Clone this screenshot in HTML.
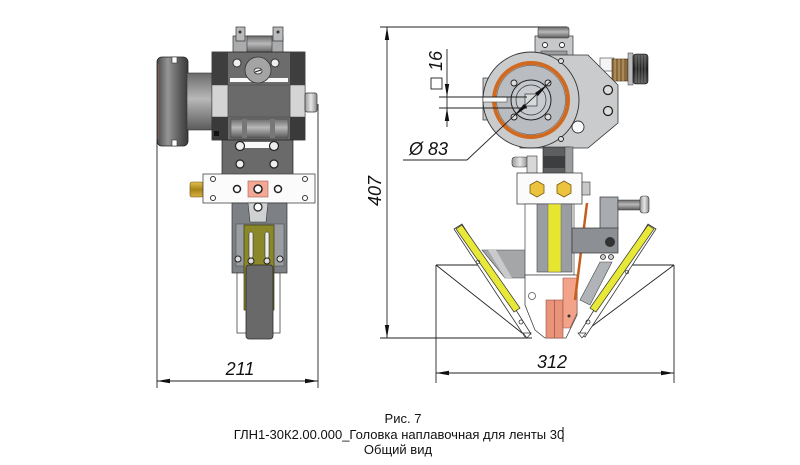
<!DOCTYPE html>
<html><head><meta charset="utf-8"><style>
html,body{margin:0;padding:0;background:#fff;}
svg{display:block;}
.dim{font-family:"Liberation Sans",sans-serif;font-style:italic;font-size:18px;fill:#111;}
.cap{font-family:"Liberation Sans","Noto Sans CJK SC",sans-serif;font-size:13px;fill:#111;}
</style></head><body>
<svg width="800" height="465" viewBox="0 0 800 465" xmlns="http://www.w3.org/2000/svg">
<defs>
<linearGradient id="drum" x1="0" x2="1" y1="0" y2="0"><stop offset="0" stop-color="#4a4a4a"/><stop offset="0.35" stop-color="#959595"/><stop offset="0.7" stop-color="#606060"/><stop offset="1" stop-color="#3a3a3a"/></linearGradient>
<linearGradient id="cylV" x1="0" x2="0" y1="0" y2="1"><stop offset="0" stop-color="#6a6a6a"/><stop offset="0.45" stop-color="#b8b8b8"/><stop offset="1" stop-color="#5a5a5a"/></linearGradient>
<linearGradient id="rollH" x1="0" x2="1" y1="0" y2="0"><stop offset="0" stop-color="#999"/><stop offset="0.5" stop-color="#e6e6e6"/><stop offset="1" stop-color="#8a8a8a"/></linearGradient>
<linearGradient id="brass" x1="0" x2="0" y1="0" y2="1"><stop offset="0" stop-color="#e0c050"/><stop offset="0.5" stop-color="#a88418"/><stop offset="1" stop-color="#d8b040"/></linearGradient>
<linearGradient id="knurl" x1="0" x2="0" y1="0" y2="1"><stop offset="0" stop-color="#555"/><stop offset="0.5" stop-color="#222"/><stop offset="1" stop-color="#555"/></linearGradient>
</defs>

<!-- ===== LEFT VIEW ===== -->
<line x1="157" y1="140" x2="157" y2="388" stroke="#222" stroke-width="0.9"/>
<line x1="318" y1="104" x2="318" y2="388" stroke="#222" stroke-width="0.9"/>
<line x1="157" y1="381" x2="318" y2="381" stroke="#222" stroke-width="0.9"/>
<polygon points="157,381 170,378.8 170,383.2" fill="#111"/>
<polygon points="318,381 305,378.8 305,383.2" fill="#111"/>
<text class="dim" x="240" y="375" text-anchor="middle">211</text>

<!-- drum -->
<rect x="157" y="57" width="31" height="89" rx="5" fill="url(#drum)" stroke="#222" stroke-width="0.8"/>
<line x1="158.6" y1="64" x2="158.6" y2="139" stroke="#a06a50" stroke-width="0.6"/>
<rect x="172" y="57" width="5" height="6" fill="#fff" stroke="#333" stroke-width="0.6"/>
<rect x="172" y="140" width="5" height="6" fill="#fff" stroke="#333" stroke-width="0.6"/>
<rect x="187" y="73" width="26" height="57" fill="url(#cylV)" stroke="#333" stroke-width="0.6"/>
<!-- top bracket -->
<rect x="233" y="36" width="50" height="18" fill="#a9abad" stroke="#333" stroke-width="0.7"/>
<rect x="236" y="27" width="9" height="14" fill="#b8babc" stroke="#333" stroke-width="0.7"/>
<rect x="273" y="27" width="10" height="14" fill="#b8babc" stroke="#333" stroke-width="0.7"/>
<rect x="247" y="36" width="25" height="17" fill="url(#cylV)" stroke="#333" stroke-width="0.6"/>
<circle cx="240" cy="32" r="1.5" fill="#333"/><circle cx="278" cy="32" r="1.5" fill="#333"/>
<!-- main body -->
<rect x="212" y="52" width="93" height="88" fill="#6c6c6c" stroke="#222" stroke-width="0.8"/>
<rect x="212" y="52" width="16" height="33" fill="#3e3e3e"/>
<rect x="290" y="52" width="15" height="33" fill="#3e3e3e"/>
<rect x="212" y="85" width="16" height="32" fill="#d4d4d4" stroke="#444" stroke-width="0.5"/>
<rect x="290" y="85" width="15" height="32" fill="#d4d4d4" stroke="#444" stroke-width="0.5"/>
<rect x="228" y="85" width="62" height="32" fill="#6a6a6a" stroke="#444" stroke-width="0.5"/>
<rect x="212" y="117" width="16" height="23" fill="#3a3a3a"/>
<rect x="290" y="117" width="15" height="23" fill="#3a3a3a"/>
<rect x="230" y="78" width="58" height="4" fill="#fafafa"/>
<rect x="231" y="119" width="57" height="19" fill="url(#cylV)" stroke="#444" stroke-width="0.5"/>
<rect x="242" y="119" width="5" height="19" fill="#777"/><rect x="270" y="119" width="5" height="19" fill="#777"/>
<circle cx="237" cy="63" r="4" fill="#eee" stroke="#333" stroke-width="1"/>
<circle cx="275" cy="63" r="4" fill="#eee" stroke="#333" stroke-width="1"/>
<circle cx="258" cy="70" r="13" fill="#a4a4a4" stroke="#333" stroke-width="0.8"/>
<ellipse cx="258" cy="71" rx="4" ry="3" fill="#eee" stroke="#333" stroke-width="0.8"/>
<line x1="255" y1="72" x2="261" y2="70" stroke="#222" stroke-width="1"/>
<rect x="214" y="131" width="5" height="5" fill="#111"/>
<rect x="305" y="93" width="12" height="19" rx="2" fill="url(#rollH)" stroke="#333" stroke-width="0.7"/>
<!-- lower body -->
<rect x="222" y="140" width="71" height="35" fill="#6a6a6a" stroke="#222" stroke-width="0.7"/>
<rect x="240" y="142" width="34" height="6" fill="#fafafa"/>
<circle cx="240" cy="146" r="4.5" fill="#eee" stroke="#222" stroke-width="1.2"/>
<circle cx="274" cy="146" r="4.5" fill="#eee" stroke="#222" stroke-width="1.2"/>
<circle cx="240" cy="164" r="4" fill="#eee" stroke="#222" stroke-width="1.2"/>
<circle cx="274" cy="164" r="4" fill="#eee" stroke="#222" stroke-width="1.2"/>
<rect x="190" y="182" width="13" height="15" rx="2" fill="url(#brass)" stroke="#6a5010" stroke-width="0.6"/>
<!-- white plate -->
<rect x="203" y="174" width="112" height="29" fill="#fbfbfb" stroke="#444" stroke-width="0.8"/>
<circle cx="213" cy="179" r="2.5" fill="#fff" stroke="#333" stroke-width="1"/>
<circle cx="213" cy="198" r="2.5" fill="#fff" stroke="#333" stroke-width="1"/>
<circle cx="305" cy="179" r="2.5" fill="#fff" stroke="#333" stroke-width="1"/>
<circle cx="305" cy="198" r="2.5" fill="#fff" stroke="#333" stroke-width="1"/>
<circle cx="237" cy="189" r="3.5" fill="#fff" stroke="#222" stroke-width="1.5"/>
<circle cx="278" cy="189" r="3.5" fill="#fff" stroke="#222" stroke-width="1.5"/>
<rect x="248" y="181" width="20" height="16" fill="#f2a894" stroke="#a06050" stroke-width="0.6"/>
<circle cx="258" cy="189" r="4" fill="#fff" stroke="#222" stroke-width="1.5"/>
<!-- lower gray -->
<rect x="232" y="203" width="55" height="70" fill="#7d8185" stroke="#333" stroke-width="0.7"/>
<rect x="236" y="224" width="48" height="42" fill="#9a9ea2" stroke="#444" stroke-width="0.5"/>
<polygon points="248,203 268,203 266,222 250,222" fill="#cfd1d3" stroke="#333" stroke-width="0.6"/>
<circle cx="258" cy="207" r="4" fill="#fff" stroke="#222" stroke-width="1.2"/>
<rect x="237" y="273" width="43" height="60" fill="#fff" stroke="#444" stroke-width="0.8"/>
<rect x="244" y="225" width="30" height="85" fill="#8a8828" stroke="#3a3a10" stroke-width="0.7"/>
<rect x="249" y="232" width="4" height="26" rx="2" fill="#eee" stroke="#333" stroke-width="0.6"/>
<rect x="265" y="232" width="4" height="26" rx="2" fill="#eee" stroke="#333" stroke-width="0.6"/>
<circle cx="251" cy="261" r="3" fill="#ddd" stroke="#222" stroke-width="1"/>
<circle cx="267" cy="261" r="3" fill="#ddd" stroke="#222" stroke-width="1"/>
<circle cx="238" cy="259" r="3" fill="#ddd" stroke="#222" stroke-width="1"/>
<circle cx="280" cy="259" r="3" fill="#ddd" stroke="#222" stroke-width="1"/>
<rect x="246" y="265" width="27" height="74" rx="3" fill="#696969" stroke="#2a2a2a" stroke-width="0.8"/>

<!-- ===== RIGHT VIEW ===== -->
<line x1="380" y1="27" x2="567" y2="27" stroke="#222" stroke-width="0.9"/>
<line x1="380" y1="338" x2="532" y2="338" stroke="#222" stroke-width="0.9"/>
<line x1="387" y1="27" x2="387" y2="338" stroke="#222" stroke-width="0.9"/>
<polygon points="387,27 384.8,40 389.2,40" fill="#111"/>
<polygon points="387,338 384.8,325 389.2,325" fill="#111"/>
<text class="dim" transform="translate(381,191) rotate(-90)" text-anchor="middle">407</text>

<line x1="436" y1="265" x2="436" y2="383" stroke="#222" stroke-width="0.9"/>
<line x1="674" y1="265" x2="674" y2="383" stroke="#222" stroke-width="0.9"/>
<line x1="436" y1="373" x2="674" y2="373" stroke="#222" stroke-width="0.9"/>
<polygon points="436,373 449,370.8 449,375.2" fill="#111"/>
<polygon points="674,373 661,370.8 661,375.2" fill="#111"/>
<text class="dim" x="552" y="368" text-anchor="middle">312</text>

<rect x="535" y="36" width="38" height="20" fill="#c6c8ca" stroke="#333" stroke-width="0.7"/>
<rect x="538" y="27" width="31" height="11" rx="2" fill="url(#cylV)" stroke="#333" stroke-width="0.6"/>
<circle cx="545" cy="45" r="2.5" fill="#fff" stroke="#222" stroke-width="0.9"/>
<circle cx="562" cy="45" r="2.5" fill="#fff" stroke="#222" stroke-width="0.9"/>
<rect x="541" y="51" width="26" height="5" fill="#9a9c9e" stroke="#333" stroke-width="0.5"/>

<rect x="600" y="58" width="14" height="13" fill="#f4f4f4" stroke="#444" stroke-width="0.6"/>
<rect x="612" y="59" width="16" height="22" fill="#8a6a3c" stroke="#3a2a10" stroke-width="0.6"/>
<line x1="615" y1="59" x2="615" y2="81" stroke="#c9a876" stroke-width="1"/>
<line x1="619" y1="59" x2="619" y2="81" stroke="#c9a876" stroke-width="1"/>
<line x1="623" y1="59" x2="623" y2="81" stroke="#c9a876" stroke-width="1"/>
<rect x="628" y="53" width="5" height="32" fill="#bbb" stroke="#333" stroke-width="0.5"/>
<rect x="633" y="54" width="15" height="30" rx="3" fill="url(#knurl)" stroke="#111" stroke-width="0.6"/>
<g stroke="#888" stroke-width="0.7"><line x1="636" y1="55" x2="636" y2="83"/><line x1="639" y1="55" x2="639" y2="83"/><line x1="642" y1="55" x2="642" y2="83"/><line x1="645" y1="55" x2="645" y2="83"/></g>

<polygon points="520,55 588,55 618,85 618,123 588,148 520,148" fill="#c9cbcd" stroke="#333" stroke-width="0.8"/>
<circle cx="608" cy="90" r="4.5" fill="#ddd" stroke="#222" stroke-width="1.3"/>
<circle cx="608" cy="111" r="4.5" fill="#ddd" stroke="#222" stroke-width="1.3"/>
<circle cx="578" cy="127" r="6" fill="#fafafa" stroke="#333" stroke-width="0.9"/>

<rect x="543" y="147" width="27" height="26" fill="#5c5e60" stroke="#222" stroke-width="0.6"/>
<rect x="543" y="156" width="27" height="12" fill="#3c3e40"/>
<rect x="565" y="147" width="8" height="26" fill="#9a9c9e" stroke="#333" stroke-width="0.5"/>
<rect x="512" y="157" width="16" height="10" rx="3" fill="url(#rollH)" stroke="#333" stroke-width="0.6"/>
<rect x="527" y="156" width="10" height="17" fill="#d8d8d8" stroke="#333" stroke-width="0.6"/>

<rect x="483" y="78" width="18" height="42" fill="#c6c8ca" stroke="#333" stroke-width="0.7"/>
<circle cx="531" cy="100" r="48" fill="#c9cbcd" stroke="#333" stroke-width="0.9"/>
<circle cx="531" cy="100" r="37" fill="none" stroke="#d06a20" stroke-width="4"/>
<circle cx="531" cy="100" r="34.5" fill="#b9bdc1" stroke="#444" stroke-width="0.5"/>
<rect x="483" y="97" width="24" height="5" fill="#fafafa" stroke="#333" stroke-width="0.5"/>
<circle cx="531" cy="100" r="20" fill="#c4c7cb" stroke="#222" stroke-width="1"/>
<circle cx="531" cy="100" r="15" fill="#c8cbcf" stroke="#333" stroke-width="0.7"/>
<rect x="525" y="94" width="12" height="12" fill="#d8dadc" stroke="#333" stroke-width="0.7"/>
<circle cx="514" cy="83" r="3" fill="#ddd" stroke="#222" stroke-width="0.9"/>
<circle cx="548" cy="83" r="3" fill="#ddd" stroke="#222" stroke-width="0.9"/>
<circle cx="514" cy="117" r="3" fill="#ddd" stroke="#222" stroke-width="0.9"/>
<circle cx="548" cy="117" r="3" fill="#ddd" stroke="#222" stroke-width="0.9"/>
<circle cx="561" cy="61" r="2.5" fill="#ddd" stroke="#222" stroke-width="0.9"/>
<circle cx="561" cy="139" r="2.5" fill="#ddd" stroke="#222" stroke-width="0.9"/>

<line x1="439" y1="97" x2="527" y2="97" stroke="#222" stroke-width="0.9"/>
<line x1="439" y1="108" x2="527" y2="108" stroke="#222" stroke-width="0.9"/>
<line x1="447" y1="49" x2="447" y2="127" stroke="#222" stroke-width="0.9"/>
<polygon points="447,97 444.8,84 449.2,84" fill="#111"/>
<polygon points="447,108 444.8,121 449.2,121" fill="#111"/>
<text class="dim" transform="translate(442,61) rotate(-90)" text-anchor="middle">16</text>
<rect x="431" y="78" width="11" height="11" fill="none" stroke="#222" stroke-width="0.9"/>

<line x1="403" y1="160" x2="467" y2="160" stroke="#222" stroke-width="0.9"/>
<line x1="467" y1="160" x2="551" y2="81" stroke="#222" stroke-width="0.9"/>
<polygon points="514,116 524,104 527,107" fill="#111"/>
<polygon points="548,84 538,96 535,93" fill="#111"/>
<text class="dim" x="409" y="155">Ø 83</text>

<rect x="517" y="173" width="65" height="31" fill="#fbfbfb" stroke="#444" stroke-width="0.8"/>
<polygon points="537,181 544,185 544,193 537,197 530,193 530,185" fill="#ecc33c" stroke="#7a5a10" stroke-width="0.8"/>
<polygon points="564,181 571,185 571,193 564,197 557,193 557,185" fill="#ecc33c" stroke="#7a5a10" stroke-width="0.8"/>
<rect x="582" y="182" width="8" height="13" fill="#c8c8c8" stroke="#333" stroke-width="0.6"/>

<line x1="436" y1="265" x2="484" y2="265" stroke="#222" stroke-width="0.9"/>
<line x1="622" y1="265" x2="674" y2="265" stroke="#222" stroke-width="0.9"/>
<line x1="436" y1="265" x2="522" y2="333" stroke="#222" stroke-width="0.9"/>
<line x1="674" y1="265" x2="583" y2="333" stroke="#222" stroke-width="0.9"/>

<polygon points="482,250 527,250 527,278 505,278" fill="#a4a6a8" stroke="#444" stroke-width="0.6"/>
<polygon points="488,250 496,250 512,278 505,278" fill="#c8cacc"/>

<rect x="525" y="204" width="49" height="71" fill="#fff" stroke="#444" stroke-width="0.7"/>
<rect x="537" y="204" width="35" height="68" fill="#9a9ea2" stroke="#444" stroke-width="0.6"/>
<rect x="548" y="204" width="13" height="68" fill="#e6e630" stroke="#666" stroke-width="0.5"/>

<polygon points="525,275 577,275 577,315 566,338 545,338 535,330 525,305" fill="#fff" stroke="#444" stroke-width="0.8"/>
<circle cx="532" cy="296" r="3.5" fill="#fff" stroke="#555" stroke-width="0.8"/>
<rect x="546" y="300" width="8.5" height="38" fill="#e8937a" stroke="#9a5040" stroke-width="0.6"/>
<rect x="554.5" y="300" width="8.5" height="38" fill="#e8937a" stroke="#9a5040" stroke-width="0.6"/>
<polygon points="563,278 577,278 577,313 570,328 563,328" fill="#f2a38a" stroke="#9a5040" stroke-width="0.6"/>
<circle cx="569" cy="316" r="1.5" fill="#333"/>

<line x1="587" y1="203" x2="575" y2="300" stroke="#c45e1a" stroke-width="2.5"/>

<rect x="600" y="197" width="18" height="32" fill="#a8acb0" stroke="#333" stroke-width="0.7"/>
<rect x="618" y="200" width="24" height="10" fill="url(#cylV)" stroke="#333" stroke-width="0.5"/>
<rect x="640" y="196" width="9" height="17" rx="3" fill="url(#rollH)" stroke="#333" stroke-width="0.6"/>
<rect x="572" y="228" width="46" height="25" fill="#8c9094" stroke="#333" stroke-width="0.7"/>
<circle cx="610" cy="242" r="5" fill="#333"/>
<circle cx="603" cy="257" r="2.5" fill="#ccc" stroke="#222" stroke-width="0.8"/>
<circle cx="611" cy="257" r="2.5" fill="#ccc" stroke="#222" stroke-width="0.8"/>
<polygon points="600,262 612,262 590,305 580,300" fill="#b0b4b8" stroke="#444" stroke-width="0.6"/>

<polygon points="454,229 462,224 531,334 525,337" fill="#fff" stroke="#333" stroke-width="0.8"/>
<polygon points="456,229 462,225 520,308 514,312" fill="#e8e838" stroke="#333" stroke-width="0.7"/>
<circle cx="521" cy="322" r="2" fill="none" stroke="#333" stroke-width="0.8"/>
<polygon points="523,333 531,333 527,338" fill="#fff" stroke="#333" stroke-width="0.7"/>
<circle cx="478" cy="262" r="1.8" fill="none" stroke="#333" stroke-width="0.7"/>
<polygon points="656,229 648,224 579,334 585,337" fill="#fff" stroke="#333" stroke-width="0.8"/>
<polygon points="654,229 648,225 590,308 596,312" fill="#e8e838" stroke="#333" stroke-width="0.7"/>
<circle cx="588" cy="322" r="2" fill="none" stroke="#333" stroke-width="0.8"/>
<polygon points="578,333 586,333 582,338" fill="#fff" stroke="#333" stroke-width="0.7"/>
<circle cx="627" cy="272" r="1.8" fill="none" stroke="#333" stroke-width="0.7"/>

<text class="cap" x="403" y="423" text-anchor="middle">Рис. 7</text>
<text class="cap" x="399" y="439" text-anchor="middle">ГЛН1-30К2.00.000_Головка наплавочная для ленты 30</text>
<line x1="563" y1="427" x2="563" y2="442" stroke="#111" stroke-width="1"/>
<text class="cap" x="398" y="454" text-anchor="middle">Общий вид</text>
</svg>
</body></html>
